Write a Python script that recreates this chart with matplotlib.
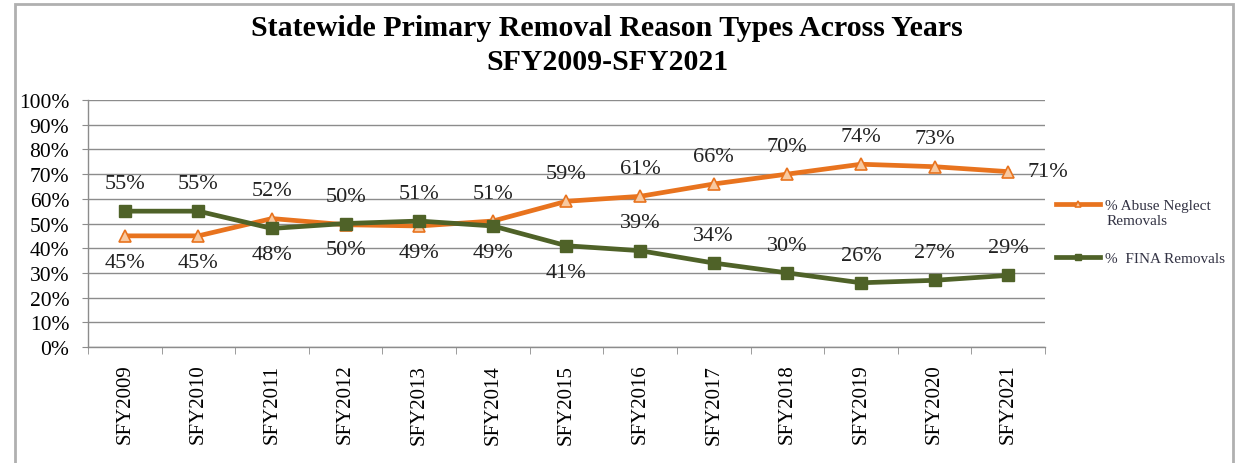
import matplotlib
matplotlib.use("Agg")
import matplotlib.pyplot as plt
from matplotlib.patches import Rectangle
from matplotlib.ticker import FixedLocator, PercentFormatter

years = ["SFY2009", "SFY2010", "SFY2011", "SFY2012", "SFY2013", "SFY2014", "SFY2015",
         "SFY2016", "SFY2017", "SFY2018", "SFY2019", "SFY2020", "SFY2021"]
abuse = [45, 45, 52, 49.5, 49, 51, 59, 61, 66, 70, 74, 73, 71]
fina = [55, 55, 48, 50, 51, 49, 41, 39, 34, 30, 26, 27, 29]
abuse_labels = ["45%", "45%", "52%", "50%", "49%", "51%", "59%", "61%", "66%", "70%", "74%", "73%", "71%"]
fina_labels = ["55%", "55%", "48%", "50%", "51%", "49%", "41%", "39%", "34%", "30%", "26%", "27%", "29%"]
# where each label sits: 'a' above, 'b' below, 'r' right
abuse_pos = ["b", "b", "a", "a", "b", "a", "a", "a", "a", "a", "a", "a", "r"]
fina_pos = ["a", "a", "b", "b", "a", "b", "b", "a", "a", "a", "a", "a", "a"]

ORANGE = "#E8731E"
GREEN = "#4F6228"
serif = "Liberation Serif"

fig = plt.figure(figsize=(12.39, 4.64), dpi=100)
ax = fig.add_axes([0.071, 0.25, 0.7724, 0.5323])

x = list(range(len(years)))
ax.plot(x, abuse, color=ORANGE, lw=3.4, marker="^", ms=9, mfc="#F8C9A0", mec=ORANGE, mew=1.2,
        label="% Abuse Neglect", zorder=3)
ax.plot(x, fina, color=GREEN, lw=3.4, marker="s", ms=9, mfc=GREEN, mec=GREEN,
        label="%  FINA Removals", zorder=4)

def put_labels(vals, labels, pos):
    for i, (v, t, p) in enumerate(zip(vals, labels, pos)):
        if p == "a":
            off, ha = (0, 20), "center"
        elif p == "b":
            off, ha = (0, -19), "center"
        else:
            off, ha = (14, 0), "left"
        ax.annotate(t, (i, v), xytext=off, textcoords="offset points", ha=ha,
                    va="center", fontsize=16, family=serif, color="#222222")

put_labels(abuse, abuse_labels, abuse_pos)
put_labels(fina, fina_labels, fina_pos)

ax.set_xlim(-0.5, len(years) - 0.5)
ax.set_ylim(0, 100)
ax.set_yticks(range(0, 101, 10))
ax.yaxis.set_major_formatter(PercentFormatter(decimals=0))
ax.grid(axis="y", color="#8c8c8c", lw=1.0)
ax.set_axisbelow(True)

ax.set_xticks(x)
ax.set_xticklabels(years, rotation=90, family=serif, fontsize=15)
ax.xaxis.set_minor_locator(FixedLocator([i - 0.5 for i in range(len(years) + 1)]))
ax.tick_params(axis="x", which="major", length=0, pad=12)
ax.tick_params(axis="x", which="minor", length=5, color="#8c8c8c")
ax.tick_params(axis="y", length=4.5, color="#8c8c8c", pad=9)
for lab in ax.get_yticklabels():
    lab.set_family(serif)
    lab.set_fontsize(15.5)

for s in ["top", "right"]:
    ax.spines[s].set_visible(False)
for s in ["left", "bottom"]:
    ax.spines[s].set_color("#8c8c8c")
    ax.spines[s].set_linewidth(1.0)

leg = ax.legend(loc="upper left", bbox_to_anchor=(1.005, 0.625), frameon=False,
                prop={"family": serif, "size": 11}, handlelength=2.9, labelspacing=2.55,
                handletextpad=0.3, markerscale=0.55, borderaxespad=0)
for t in leg.get_texts():
    t.set_color("#333344")
fig.text(1107 / 1239, 1 - 222 / 464, "Removals", ha="left", va="center", family=serif,
         fontsize=11, color="#333344")

fig.text(0.49, 1 - 28 / 464, "Statewide Primary Removal Reason Types Across Years", ha="center",
         va="center", family=serif, weight="bold", fontsize=21.5)
fig.text(0.49, 1 - 63 / 464, "SFY2009-SFY2021", ha="center", va="center", family=serif,
         weight="bold", fontsize=21.5)

fig.patches.append(Rectangle((15 / 1239, -0.1), (1233 - 15) / 1239, 1.1 - 5 / 464,
                             transform=fig.transFigure, fill=False, edgecolor="#b0b0b0", lw=2))

fig.savefig("out.png", dpi=100, facecolor="white")
